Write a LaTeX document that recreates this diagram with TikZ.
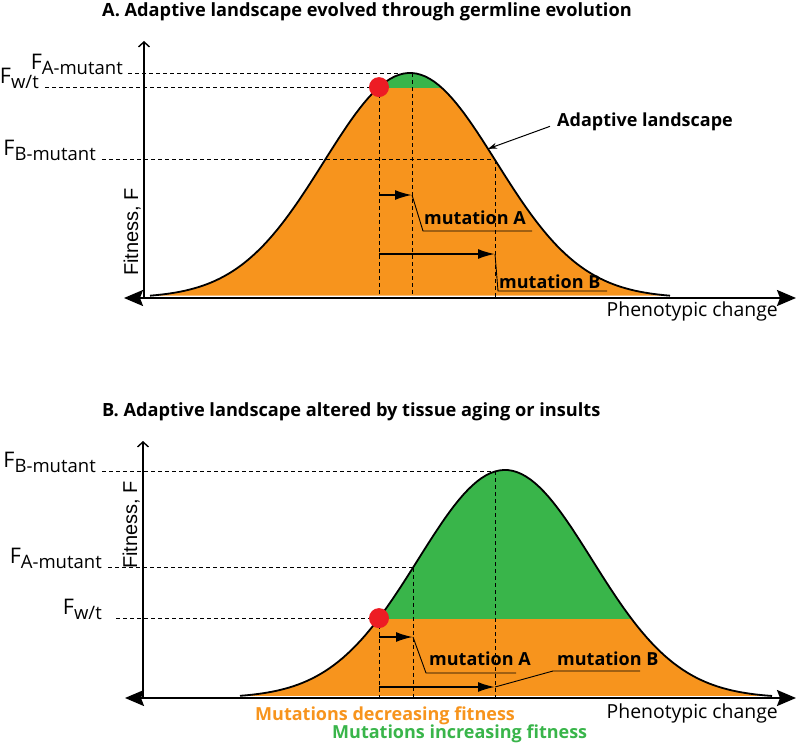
\documentclass[tikz,border=0pt]{standalone}
\usepackage{fontspec}
\setmainfont{Open Sans}
\newfontfamily\axisfont{Liberation Sans}
\usetikzlibrary{arrows.meta}

% F with a lowered label, as on the fitness levels
\newcommand{\Flevel}[1]{F{\fontsize{18.5}{18.5}\selectfont\raisebox{-5pt}{#1}}}

\begin{document}
\begin{tikzpicture}[x=1pt, y=-1pt,
    declare function={landA(\x)=298-225*exp(-((\x-410)/86)^2/2);
                      landB(\x)=698-228*exp(-((\x-505)/87)^2/2);},
    curve/.style={draw=black, line width=1.8pt},
    yaxis/.style={line width=1.4pt, -{Straight Barb[length=5pt,width=11pt,line width=1.4pt]}},
    xaxis/.style={line width=2pt, {Stealth[length=19pt,width=16pt,inset=3pt]}-{Stealth[length=19pt,width=16pt,inset=3pt]}},
    guide/.style={dash pattern=on 4pt off 3pt, line width=0.9pt},
    mutarrow/.style={line width=2pt, -{Latex[length=17pt,width=10pt]}},
    leader/.style={line width=0.9pt},
    pointer/.style={line width=1pt, -{Stealth[length=9pt,width=6pt]}},
    level/.style={anchor=base east, inner sep=0pt, font=\fontsize{21.5}{21.5}\selectfont},
    mutlabel/.style={anchor=base west, inner sep=0pt, font=\bfseries\fontsize{18}{18}\selectfont},
    paneltitle/.style={anchor=base west, inner sep=0pt, font=\bfseries\fontsize{18.2}{18.2}\selectfont},
    axislabel/.style={inner sep=0pt, font=\fontsize{19.4}{19.4}\selectfont},
    fitlabel/.style={inner sep=1pt, rotate=90, anchor=south, font=\axisfont\fontsize{20}{20}\selectfont},
]
    \definecolor{fillOrange}{HTML}{F7941D}
    \definecolor{fillGreen}{HTML}{39B54A}
    \definecolor{dotRed}{HTML}{ED1C24}

    \useasboundingbox (0,0) rectangle (800,746);

    % ---------------- Panel A ----------------
    \node[paneltitle] (titleA) at (102,17) {A. Adaptive landscape evolved through germline evolution};

    \coordinate (wtA) at (379,{landA(379)});
    \coordinate (peakA) at (412,{landA(412)});
    \coordinate (bA) at (495,{landA(495)});
    \coordinate (baseA) at (144,298);

    % landscape, green part above the wild type
    \fill[fillOrange] plot[domain=150:670, samples=120] (\x,{landA(\x)}) -- cycle;
    \begin{scope}
        \clip (0,0) rectangle (800,{landA(379)});
        \fill[fillGreen] plot[domain=150:670, samples=120] (\x,{landA(\x)}) -- cycle;
    \end{scope}
    \draw[curve] plot[domain=150:670, samples=120] (\x,{landA(\x)});

    % fitness levels
    \node[level] (FwtA) at (39,{landA(379)-4}) {\Flevel{w/t}};
    \node[level] (FamA) at (123,{landA(412)-4}) {\Flevel{A-mutant}};
    \node[level] (FbmA) at (96,{landA(495)-4}) {\Flevel{B-mutant}};
    \draw[guide] ([xshift=6pt]FwtA.east |- wtA) -- (wtA);
    \draw[guide] ([xshift=5pt]FamA.east |- peakA) -- (peakA);
    \draw[guide] ([xshift=6pt]FbmA.east |- bA) -- (bA);
    \draw[guide] (wtA) -- (wtA |- baseA);
    \draw[guide] (peakA) -- (peakA |- baseA);
    \draw[guide] (bA) -- (bA |- baseA);

    % axes
    \draw[yaxis] (baseA) -- (144,41);
    \draw[xaxis] (124,298) -- (796,298);
    \node[fitlabel] (fitA) at (142,232) {Fitness, F};
    \node[axislabel, anchor=base east] (phenA) at (778,316) {Phenotypic change};

    % mutations
    \coordinate (tailA1) at (379,195);
    \coordinate (tipA1) at (412,195);
    \coordinate (tailA2) at (379,254);
    \coordinate (tipA2) at (495,254);
    \draw[mutarrow] (tailA1) -- (tipA1);
    \draw[mutarrow] (tailA2) -- (tipA2);
    \node[mutlabel] (mutAA) at (424,225) {mutation A};
    \node[mutlabel] (mutAB) at (499,288) {mutation B};
    \draw[leader] (tipA1) -- (423,231) -- (532,231);
    \draw[leader] (tipA2) -- (498,291) -- (607,291);

    \fill[dotRed] (wtA) circle (10);

    % landscape label
    \node[mutlabel] (landA) at (557,127) {Adaptive landscape};
    \coordinate (onCurve) at (488,{landA(488)});
    \draw[pointer] ([xshift=-7pt,yshift=-4pt]landA.west) -- (onCurve);

    % ---------------- Panel B ----------------
    \node[paneltitle] (titleB) at (102,416) {B. Adaptive landscape altered by tissue aging or insults};

    \coordinate (wtB) at (379,{landB(379)});
    \coordinate (aB) at (413,{landB(413)});
    \coordinate (peakB) at (495,{landB(495)});
    \coordinate (baseB) at (143,698);

    % landscape, green part above the wild type
    \fill[fillOrange] plot[domain=240:772, samples=120] (\x,{landB(\x)}) -- cycle;
    \begin{scope}
        \clip (0,400) rectangle (800,{landB(379)});
        \fill[fillGreen] plot[domain=240:772, samples=120] (\x,{landB(\x)}) -- cycle;
    \end{scope}
    \draw[curve] plot[domain=240:772, samples=120] (\x,{landB(\x)});

    % fitness levels
    \node[level] (FbmB) at (96,{landB(495)-4}) {\Flevel{B-mutant}};
    \node[level] (FamB) at (102,{landB(413)-4}) {\Flevel{A-mutant}};
    \node[level] (FwtB) at (102,{landB(379)-4}) {\Flevel{w/t}};
    \draw[guide] ([xshift=6pt]FbmB.east |- peakB) -- (peakB);
    \draw[guide] ([xshift=6pt]FamB.east |- aB) -- (aB);
    \draw[guide] ([xshift=14pt]FwtB.east |- wtB) -- (wtB);
    \draw[guide] (wtB) -- (wtB |- baseB);
    \draw[guide] (aB) -- (aB |- baseB);
    \draw[guide] (peakB) -- (peakB |- baseB);

    % axes
    \draw[yaxis] (baseB) -- (143,441);
    \draw[xaxis] (125,698) -- (796,698);
    \node[fitlabel] (fitB) at (141,525) {Fitness, F};
    \node[axislabel, anchor=base east] (phenB) at (778,718) {Phenotypic change};

    % mutations
    \coordinate (tailB1) at (379,637);
    \coordinate (tipB1) at (413,637);
    \coordinate (tailB2) at (379,687);
    \coordinate (tipB2) at (495,687);
    \draw[mutarrow] (tailB1) -- (tipB1);
    \draw[mutarrow] (tailB2) -- (tipB2);
    \node[mutlabel] (mutBA) at (429,665) {mutation A};
    \node[mutlabel] (mutBB) at (557,665) {mutation B};
    \draw[leader] (tipB1) -- (426,673) -- (516,673);
    \draw[leader] (tipB2) -- (553,671) -- (640,671);

    \fill[dotRed] (wtB) circle (10);

    % legend
    \node[mutlabel, text=fillOrange] (decr) at (255,720) {Mutations decreasing fitness};
    \node[mutlabel, text=fillGreen] (incr) at (332,738) {Mutations increasing fitness};

\end{tikzpicture}
\end{document}
